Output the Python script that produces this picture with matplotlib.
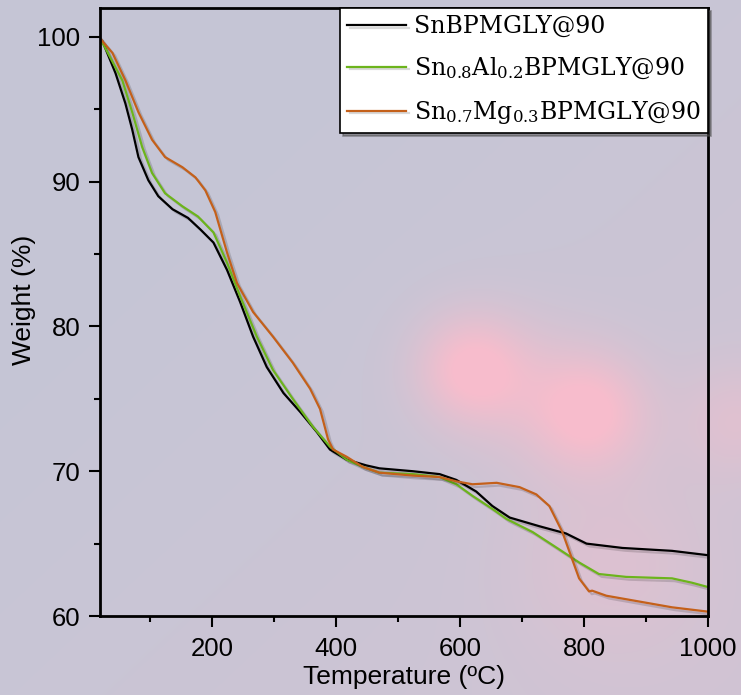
import numpy as np
import matplotlib
matplotlib.use("Agg")
import matplotlib.pyplot as plt
from matplotlib.ticker import MultipleLocator
import matplotlib.patheffects as pe

# temperature (C) / weight (%)
temp_sn = [18, 23, 44, 60, 71, 81, 97, 113, 136, 161, 181, 202, 224, 245, 266, 288,
           315, 342, 369, 390, 417, 449, 470, 524, 567, 594, 626, 652, 680, 728, 771,
           804, 862, 942, 1000]
wt_sn = [99.9, 99.7, 97.5, 95.4, 93.6, 91.7, 90.1, 89.0, 88.1, 87.5, 86.7, 85.8, 83.9,
         81.7, 79.3, 77.2, 75.4, 74.1, 72.7, 71.5, 70.8, 70.4, 70.2, 70.0, 69.8, 69.4,
         68.6, 67.6, 66.8, 66.2, 65.7, 65.0, 64.7, 64.5, 64.2]

temp_al = [18, 23, 55, 71, 87, 103, 124, 152, 177, 202, 224, 245, 272, 298, 330, 362,
           390, 417, 443, 470, 524, 567, 594, 620, 652, 675, 717, 760, 792, 824, 868,
           942, 974, 1000]
wt_al = [99.7, 99.6, 97.0, 94.8, 92.4, 90.6, 89.2, 88.3, 87.6, 86.5, 84.4, 82.1, 79.3,
         77.0, 75.0, 73.1, 71.7, 70.8, 70.3, 69.9, 69.8, 69.6, 69.1, 68.3, 67.4, 66.7,
         65.8, 64.6, 63.7, 62.9, 62.7, 62.6, 62.3, 62.0]

temp_mg = [18, 23, 39, 60, 81, 103, 124, 152, 173, 189, 205, 224, 240, 266, 298, 330,
           358, 374, 387, 395, 417, 443, 470, 524, 567, 594, 620, 659, 696, 723, 744,
           765, 781, 792, 808, 813, 836, 889, 942, 1000]
wt_mg = [100.0, 99.7, 98.9, 97.0, 94.8, 92.9, 91.7, 91.0, 90.3, 89.4, 87.9, 85.1, 83.0,
         81.0, 79.3, 77.5, 75.7, 74.3, 72.2, 71.5, 71.0, 70.3, 69.9, 69.7, 69.6, 69.3,
         69.1, 69.2, 68.9, 68.4, 67.6, 65.8, 63.9, 62.6, 61.7, 61.75, 61.4, 61.0, 60.6,
         60.3]

labels = ["SnBPMGLY@90",
          r"Sn$_{0.8}$Al$_{0.2}$BPMGLY@90",
          r"Sn$_{0.7}$Mg$_{0.3}$BPMGLY@90"]
colors = ["#000000", "#6cb41c", "#c4601a"]

plt.rcParams['font.family'] = ['Liberation Sans', 'DejaVu Sans']
plt.rcParams['mathtext.fontset'] = 'dejavuserif'

W, H = 741, 695
fig = plt.figure(figsize=(W / 100, H / 100), dpi=100)

# lavender background with soft pink blobs
yy, xx = np.mgrid[0:H, 0:W]
base = np.array([0.773, 0.776, 0.839])
pink = np.array([0.97, 0.74, 0.80])
w = 0.25 * np.clip((xx / W) * 0.6 + (yy / H) * 0.6 - 0.3, 0, 1)
for cx, cy, r, a in [(470, 368, 38, 0.9), (590, 412, 40, 0.85), (530, 390, 50, 0.3),
                     (610, 560, 70, 0.3), (735, 420, 40, 0.35)]:
    w = w + a * np.exp(-((xx - cx) ** 2 + (yy - cy) ** 2) / (2 * r ** 2))
w = np.clip(w, 0, 1)[..., None]
img = base * (1 - w) + pink * w
bg = fig.add_axes([0, 0, 1, 1], zorder=-1)
bg.imshow(img, aspect='auto')
bg.axis('off')

ax = fig.add_axes([100 / W, 1 - 616 / H, 608 / W, 608 / H])
ax.set_facecolor('none')

shadow = [pe.SimpleLineShadow(offset=(2, -2), shadow_color='k', alpha=0.15), pe.Normal()]
for t, wt, c, lab in zip([temp_sn, temp_al, temp_mg], [wt_sn, wt_al, wt_mg], colors, labels):
    ax.plot(t, wt, color=c, lw=1.6, label=lab, path_effects=shadow)

ax.set_xlim(19, 1000)
ax.set_ylim(60, 102)
ax.xaxis.set_major_locator(MultipleLocator(200))
ax.xaxis.set_minor_locator(MultipleLocator(100))
ax.yaxis.set_major_locator(MultipleLocator(10))
ax.yaxis.set_minor_locator(MultipleLocator(5))
ax.tick_params(which='both', direction='out', width=1.5, labelsize=18.5)
ax.tick_params(which='major', length=8)
ax.tick_params(which='minor', length=4.5)
ax.tick_params(axis='x', pad=7)
ax.tick_params(axis='y', pad=6)
for s in ax.spines.values():
    s.set_linewidth(2)

ax.set_xlabel("Temperature (ºC)", fontsize=19, labelpad=3)
ax.set_ylabel("Weight (%)", fontsize=19)
ax.yaxis.set_label_coords(-0.105, 0.52)

leg = ax.legend(loc='upper right', bbox_to_anchor=(1.0, 1.0), borderaxespad=0,
                prop={'family': 'DejaVu Serif', 'size': 17}, fancybox=False,
                edgecolor='k', framealpha=1, handlelength=2.5, handletextpad=0.35,
                labelspacing=0.75, borderpad=0.3,
                shadow={'color': '0.3', 'alpha': 0.5})
leg.get_frame().set_linewidth(1.2)

fig.savefig("out.png", dpi=100)
